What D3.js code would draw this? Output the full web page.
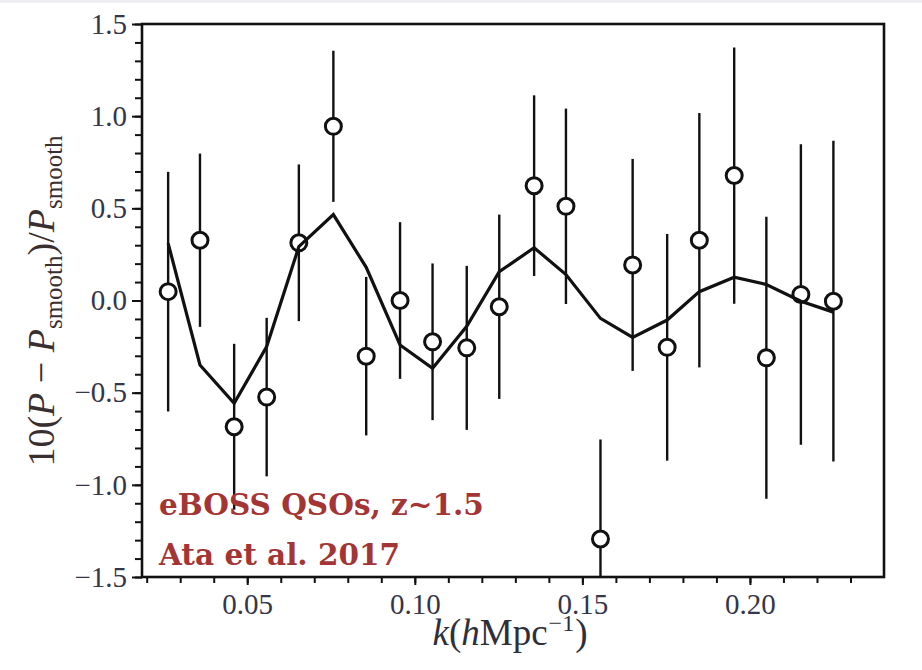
<!DOCTYPE html>
<html>
<head>
<meta charset="utf-8">
<script src="https://cdn.jsdelivr.net/npm/d3@7"></script>
<style>
  body { margin: 0; background: #fff; }
  svg { display: block; }
</style>
</head>
<body>
<div id="chart"></div>
<script>
// wavenumber of each band (h/Mpc)
const kValues = [0.0264, 0.0359, 0.0461, 0.0558, 0.0654, 0.0757, 0.0855, 0.0956, 0.1053, 0.1155, 0.1252,
                 0.1356, 0.1451, 0.1554, 0.1650, 0.1753, 0.1849, 0.1953, 0.2049, 0.2152, 0.2249];
// measured 10(P - Psmooth)/Psmooth
const ratio = [0.048, 0.327, -0.685, -0.524, 0.313, 0.945, -0.302, 0.0, -0.224, -0.257, -0.034,
               0.623, 0.511, -1.294, 0.193, -0.254, 0.327, 0.678, -0.311, 0.033, -0.004];
// 1-sigma error bars
const sigma = [0.65, 0.47, 0.45, 0.43, 0.425, 0.41, 0.43, 0.425, 0.425, 0.445, 0.50,
               0.49, 0.53, 0.54, 0.575, 0.615, 0.69, 0.695, 0.765, 0.815, 0.87];
// best fit BAO model
const model = [0.31, -0.35, -0.558, -0.25, 0.292, 0.466, 0.18, -0.241, -0.368, -0.14, 0.156,
               0.286, 0.141, -0.097, -0.2, -0.106, 0.048, 0.126, 0.087, -0.004, -0.063];

const xTickLabels = [0.05, 0.10, 0.15, 0.20];
const yTickLabels = [-1.5, -1.0, -0.5, 0.0, 0.5, 1.0, 1.5];
const legendLines = ["eBOSS QSOs, z~1.5", "Ata et al. 2017"];

const width = 922;
const height = 670;
const margin = {top: 24, right: 38, bottom: 93, left: 142};

const svg = d3.select("#chart")
    .append("svg")
    .attr("width", width)
    .attr("height", height);

// thin grey band along the top
svg.append("rect")
    .attr("x", 0).attr("y", 0)
    .attr("width", width).attr("height", 3)
    .attr("fill", "#eceef2");

const x = d3.scaleLinear()
    .domain([0.0186, 0.24])
    .range([margin.left, width - margin.right]);

const y = d3.scaleLinear()
    .domain([-1.5, 1.5])
    .range([height - margin.bottom, margin.top]);

const tickColor = "#34364a";
const fontSerif = "'Liberation Serif', 'DejaVu Serif', serif";

// minor ticks
svg.append("g")
    .attr("transform", `translate(0,${y(-1.5)})`)
    .call(d3.axisBottom(x).tickValues(d3.range(0.02, 0.235, 0.01)).tickSize(6).tickFormat(""))
    .call(g => g.select(".domain").remove())
    .call(g => g.selectAll("line").attr("stroke", "#111").attr("stroke-width", 2));

svg.append("g")
    .attr("transform", `translate(${x.range()[0]},0)`)
    .call(d3.axisLeft(y).tickValues(d3.range(-15, 16, 1).map(d => d / 10)).tickSize(7).tickFormat(""))
    .call(g => g.select(".domain").remove())
    .call(g => g.selectAll("line").attr("stroke", "#111").attr("stroke-width", 2));

// major ticks with labels
svg.append("g")
    .attr("transform", `translate(0,${y(-1.5)})`)
    .call(d3.axisBottom(x).tickValues(xTickLabels).tickSize(8).tickPadding(8).tickFormat(d3.format(".2f")))
    .call(g => g.select(".domain").remove())
    .call(g => g.selectAll("line").attr("stroke", "#111").attr("stroke-width", 2))
    .call(g => g.selectAll("text")
        .attr("fill", tickColor)
        .attr("font-family", fontSerif)
        .attr("font-size", 29));

svg.append("g")
    .attr("transform", `translate(${x.range()[0]},0)`)
    .call(d3.axisLeft(y).tickValues(yTickLabels).tickSize(10).tickPadding(5).tickFormat(d3.format(".1f")))
    .call(g => g.select(".domain").remove())
    .call(g => g.selectAll("line").attr("stroke", "#111").attr("stroke-width", 2))
    .call(g => g.selectAll("text")
        .attr("fill", tickColor)
        .attr("font-family", fontSerif)
        .attr("font-size", 29));

// frame
svg.append("rect")
    .attr("x", x.range()[0])
    .attr("y", y.range()[1])
    .attr("width", x.range()[1] - x.range()[0])
    .attr("height", y.range()[0] - y.range()[1])
    .attr("fill", "none")
    .attr("stroke", "#111")
    .attr("stroke-width", 2.6);

svg.append("clipPath")
    .attr("id", "plot-clip")
    .append("rect")
    .attr("x", x.range()[0])
    .attr("y", y.range()[1])
    .attr("width", x.range()[1] - x.range()[0])
    .attr("height", y.range()[0] - y.range()[1]);

const data = kValues.map((k, i) => ({k: k, v: ratio[i], e: sigma[i], m: model[i]}));

const plot = svg.append("g").attr("clip-path", "url(#plot-clip)");

// error bars
plot.append("g")
    .selectAll("line")
    .data(data)
    .join("line")
    .attr("x1", d => x(d.k))
    .attr("x2", d => x(d.k))
    .attr("y1", d => y(d.v - d.e))
    .attr("y2", d => y(d.v + d.e))
    .attr("stroke", "#111")
    .attr("stroke-width", 2.4);

// data points
plot.append("g")
    .selectAll("circle")
    .data(data)
    .join("circle")
    .attr("cx", d => x(d.k))
    .attr("cy", d => y(d.v))
    .attr("r", 8)
    .attr("fill", "#fff")
    .attr("stroke", "#111")
    .attr("stroke-width", 3);

// model curve
const line = d3.line()
    .x(d => x(d.k))
    .y(d => y(d.m));

plot.append("path")
    .datum(data)
    .attr("d", line)
    .attr("fill", "none")
    .attr("stroke", "#111")
    .attr("stroke-width", 3.2)
    .attr("stroke-linejoin", "miter");

// survey label
svg.append("g")
    .selectAll("text")
    .data(legendLines)
    .join("text")
    .attr("x", 159)
    .attr("y", (d, i) => 515 + i * 50)
    .attr("fill", "#a33535")
    .attr("font-family", "'DejaVu Serif', serif")
    .attr("font-weight", "bold")
    .attr("font-size", 29.5)
    .text(d => d);

// axis labels
const xLabel = svg.append("text")
    .attr("x", (x.range()[0] + x.range()[1]) / 2 - 3)
    .attr("y", 645)
    .attr("text-anchor", "middle")
    .attr("fill", "#2f2f3a")
    .attr("font-family", fontSerif)
    .attr("font-size", 37);
xLabel.append("tspan").attr("font-style", "italic").text("k");
xLabel.append("tspan").text("(");
xLabel.append("tspan").attr("font-style", "italic").text("h");
xLabel.append("tspan").text("Mpc");
xLabel.append("tspan").attr("font-size", 24).attr("dx", 1).attr("dy", -14).text("−1");
xLabel.append("tspan").attr("dx", 1).attr("dy", 14).text(")");

const yLabel = svg.append("text")
    .attr("transform", `translate(54,301) rotate(-90)`)
    .attr("text-anchor", "middle")
    .attr("fill", "#3a2f30")
    .attr("font-family", fontSerif)
    .attr("font-size", 38);
yLabel.append("tspan").text("10(");
yLabel.append("tspan").attr("font-style", "italic").text("P");
yLabel.append("tspan").text(" − ");
yLabel.append("tspan").attr("font-style", "italic").text("P");
yLabel.append("tspan").attr("font-size", 25).attr("dy", 8).text("smooth");
yLabel.append("tspan").attr("dy", -8).text(")/");
yLabel.append("tspan").attr("font-style", "italic").text("P");
yLabel.append("tspan").attr("font-size", 25).attr("dy", 8).text("smooth");
</script>
</body>
</html>
